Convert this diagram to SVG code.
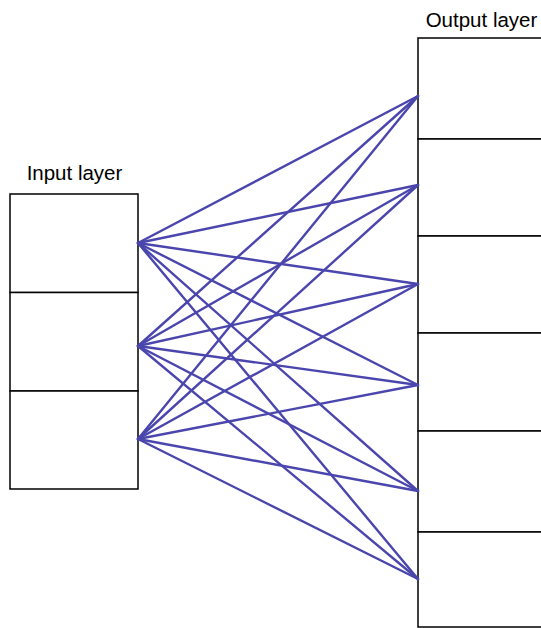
<svg xmlns="http://www.w3.org/2000/svg" width="541" height="628" viewBox="0 0 541 628">
<style>
.box{fill:#fff;stroke:#000;stroke-width:1.5}
.lbl{font-family:"Liberation Sans",Arial,sans-serif;font-size:20.5px;fill:#000;text-anchor:middle}
.c line{stroke:#4a46ad;stroke-width:2.4;stroke-linecap:round}
</style>
<rect width="541" height="628" fill="#fff"/>
<g id="input-layer">
<text class="lbl" x="74.5" y="180">Input layer</text>
<rect class="box" x="10" y="194" width="128" height="98.5"/>
<rect class="box" x="10" y="292.5" width="128" height="98.5"/>
<rect class="box" x="10" y="391" width="128" height="98"/>
</g>
<g id="output-layer">
<text class="lbl" x="481.5" y="27">Output layer</text>
<rect class="box" x="418" y="38" width="130" height="101"/>
<rect class="box" x="418" y="139" width="130" height="97"/>
<rect class="box" x="418" y="236" width="130" height="97"/>
<rect class="box" x="418" y="333" width="130" height="98"/>
<rect class="box" x="418" y="431" width="130" height="101"/>
<rect class="box" x="418" y="532" width="130" height="95"/>
</g>
<g id="connectors" class="c">
<line x1="138" y1="243" x2="418" y2="96"/>
<line x1="138" y1="243" x2="418" y2="185"/>
<line x1="138" y1="243" x2="418" y2="284"/>
<line x1="138" y1="243" x2="418" y2="385"/>
<line x1="138" y1="243" x2="418" y2="491"/>
<line x1="138" y1="243" x2="418" y2="579"/>
<line x1="138" y1="346" x2="418" y2="96"/>
<line x1="138" y1="346" x2="418" y2="185"/>
<line x1="138" y1="346" x2="418" y2="284"/>
<line x1="138" y1="346" x2="418" y2="385"/>
<line x1="138" y1="346" x2="418" y2="491"/>
<line x1="138" y1="346" x2="418" y2="579"/>
<line x1="138" y1="439" x2="418" y2="96"/>
<line x1="138" y1="439" x2="418" y2="185"/>
<line x1="138" y1="439" x2="418" y2="284"/>
<line x1="138" y1="439" x2="418" y2="385"/>
<line x1="138" y1="439" x2="418" y2="491"/>
<line x1="138" y1="439" x2="418" y2="579"/>
</g>
</svg>
